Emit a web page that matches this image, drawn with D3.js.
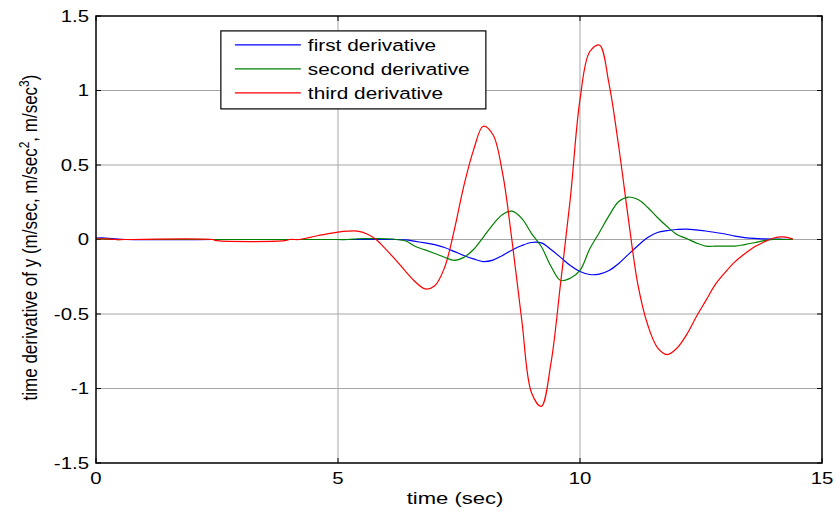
<!DOCTYPE html>
<html>
<head>
<meta charset="utf-8">
<script src="https://cdn.jsdelivr.net/npm/d3@7"></script>
<style>
  body { margin: 0; background: #fff; }
  svg { display: block; font-family: "Liberation Sans", Arial, sans-serif; }
  .grid line { stroke: #a6a6a6; stroke-width: 1; }
  .tick-label { font-size: 17px; fill: #000; }
</style>
</head>
<body>
<svg id="chart"></svg>
<script>
// sample times (sec)
const time = [0, 0.2, 0.4, 0.6, 2.4, 2.5, 3.9, 4.0, 4.2,
  4.4, 4.6, 4.8, 5.0, 5.2, 5.4, 5.6, 5.8, 6.0, 6.2,
  6.4, 6.6, 6.8, 7.0, 7.2, 7.4, 7.6, 7.8, 8.0, 8.2,
  8.4, 8.6, 8.8, 9.0, 9.2, 9.4, 9.6, 9.8, 10.0, 10.2,
  10.4, 10.6, 10.8, 11.0, 11.2, 11.4, 11.6, 11.8, 12.0, 12.2,
  12.4, 12.6, 12.8, 13.0, 13.2, 13.4, 13.6, 13.8, 14.0, 14.2,
  14.4];

const firstDerivative = [0.01, 0.01, 0.005, 0, 0, 0, 0, 0, 0,
  0, 0, 0, 0, 0, 0, 0, 0, 0, 0,
  -0.003, -0.013, -0.023, -0.034, -0.054, -0.08, -0.107, -0.13, -0.148, -0.138,
  -0.107, -0.07, -0.04, -0.02, -0.023, -0.067, -0.12, -0.175, -0.215, -0.235,
  -0.232, -0.208, -0.161, -0.1, -0.04, 0.013, 0.047, 0.06, 0.067, 0.07,
  0.064, 0.057, 0.047, 0.037, 0.023, 0.013, 0.007, 0.004, 0.002, 0.001,
  0];

const secondDerivative = [0.003, 0.003, 0, 0, 0, 0, 0, 0, 0,
  0, 0, 0, 0, 0, 0.005, 0.006, 0.006, 0.005, 0,
  -0.01, -0.047, -0.07, -0.094, -0.119, -0.14, -0.12, -0.067, 0.015, 0.1,
  0.168, 0.19, 0.14, 0.04, -0.047, -0.18, -0.275, -0.26, -0.208, -0.064,
  0.047, 0.16, 0.255, 0.285, 0.268, 0.215, 0.148, 0.087, 0.034, 0.007,
  -0.023, -0.044, -0.045, -0.045, -0.044, -0.034, -0.022, -0.007, 0, 0,
  0];

const thirdDerivative = [0.005, 0.004, 0, 0, 0, -0.008, -0.008, 0, 0,
  0.013, 0.027, 0.04, 0.05, 0.056, 0.056, 0.037, -0.003, -0.07, -0.14,
  -0.215, -0.285, -0.332, -0.31, -0.19, 0.06, 0.36, 0.6, 0.76, 0.705,
  0.445, -0.02, -0.55, -1.03, -1.12, -0.83, -0.29, 0.275, 0.94, 1.26,
  1.305, 1.045, 0.624, 0.137, -0.31, -0.574, -0.725, -0.772, -0.73, -0.64,
  -0.52, -0.41, -0.3, -0.22, -0.15, -0.097, -0.05, -0.017, 0.01, 0.017,
  0.003];

const seriesNames = ["first derivative", "second derivative", "third derivative"];
const seriesColors = ["#0000ff", "#008000", "#ff0000"];
const xTicks = [0, 5, 10, 15];
const yTicks = [-1.5, -1, -0.5, 0, 0.5, 1, 1.5];
const yTickLabels = ["-1.5", "-1", "-0.5", "0", "0.5", "1", "1.5"];

const config = {
  width: 836,
  height: 514,
  margin: { top: 16, right: 14, bottom: 51, left: 96 },
  textScale: 1.2   // figure text looks stretched horizontally
};

const svg = d3.select("#chart")
  .attr("width", config.width)
  .attr("height", config.height);

const width = config.width - config.margin.left - config.margin.right;
const height = config.height - config.margin.top - config.margin.bottom;

const chart = svg.append("g")
  .attr("transform", `translate(${config.margin.left},${config.margin.top})`);

const xScale = d3.scaleLinear().domain([0, 15]).range([0, width]);
const yScale = d3.scaleLinear().domain([-1.5, 1.5]).range([height, 0]);

// grid
const grid = chart.append("g").attr("class", "grid");
grid.selectAll(".gx")
  .data(xTicks.slice(1, -1))
  .join("line")
  .attr("x1", d => xScale(d)).attr("x2", d => xScale(d))
  .attr("y1", 0).attr("y2", height)
  .attr("stroke", "#8c8c8c");
grid.selectAll(".gy")
  .data(yTicks.slice(1, -1))
  .join("line")
  .attr("x1", 0).attr("x2", width)
  .attr("y1", d => yScale(d)).attr("y2", d => yScale(d));

// inward ticks on all four sides
const tickLen = 5;
const ticks = chart.append("g").attr("stroke", "#000").attr("stroke-width", 1);
yTicks.forEach(v => {
  ticks.append("line").attr("x1", 0).attr("x2", tickLen).attr("y1", yScale(v)).attr("y2", yScale(v));
  ticks.append("line").attr("x1", width - tickLen).attr("x2", width).attr("y1", yScale(v)).attr("y2", yScale(v));
});
xTicks.forEach(v => {
  ticks.append("line").attr("x1", xScale(v)).attr("x2", xScale(v)).attr("y1", height).attr("y2", height - tickLen);
  ticks.append("line").attr("x1", xScale(v)).attr("x2", xScale(v)).attr("y1", 0).attr("y2", tickLen);
});

// lines
const line = d3.line()
  .x((d, i) => xScale(time[i]))
  .y(d => yScale(d))
  .curve(d3.curveCatmullRom.alpha(0.5));

const seriesData = [firstDerivative, secondDerivative, thirdDerivative];
chart.selectAll(".series")
  .data(seriesData)
  .join("path")
  .attr("class", "series")
  .attr("fill", "none")
  .attr("stroke", (d, i) => seriesColors[i])
  .attr("stroke-width", 1.2)
  .attr("d", line);

// frame
chart.append("rect")
  .attr("x", 0).attr("y", 0)
  .attr("width", width).attr("height", height)
  .attr("fill", "none")
  .attr("stroke", "#000")
  .attr("stroke-width", 1.5);

// tick labels
const sx = config.textScale;
chart.selectAll(".ylab")
  .data(yTicks)
  .join("g")
  .attr("transform", d => `translate(-7,${yScale(d)}) scale(${sx},1)`)
  .append("text")
  .attr("class", "tick-label")
  .attr("text-anchor", "end")
  .attr("dy", "0.35em")
  .text((d, i) => yTickLabels[i]);

chart.selectAll(".xlab")
  .data(xTicks)
  .join("g")
  .attr("transform", d => `translate(${xScale(d)},${height + 21}) scale(${sx},1)`)
  .append("text")
  .attr("class", "tick-label")
  .attr("text-anchor", "middle")
  .text(d => d);

// axis titles
svg.append("g")
  .attr("transform", `translate(${config.margin.left + width / 2 - 4},${config.height - 10}) scale(${sx * 1.08},1)`)
  .append("text")
  .attr("class", "tick-label")
  .attr("text-anchor", "middle")
  .text("time (sec)");

const yTitle = svg.append("g")
  .attr("transform", `translate(37,${config.margin.top + height / 2 - 2}) scale(${sx},1) rotate(-90)`)
  .append("text")
  .attr("class", "tick-label")
  .attr("text-anchor", "middle");
yTitle.append("tspan").text("time derivative of y (m/sec, m/sec");
yTitle.append("tspan").attr("dy", -7).attr("font-size", 12).text("2");
yTitle.append("tspan").attr("dy", 7).text(", m/sec");
yTitle.append("tspan").attr("dy", -7).attr("font-size", 12).text("3");
yTitle.append("tspan").attr("dy", 7).text(")");

// legend
const legend = chart.append("g")
  .attr("transform", `translate(${xScale(2.58)},${yScale(1.4)})`);
legend.append("rect")
  .attr("width", 265).attr("height", 78)
  .attr("fill", "#fff")
  .attr("stroke", "#000")
  .attr("stroke-width", 1.2);
const items = legend.selectAll(".item")
  .data(seriesNames)
  .join("g")
  .attr("transform", (d, i) => `translate(0,${14 + i * 24})`);
items.append("line")
  .attr("x1", 14).attr("x2", 80)
  .attr("stroke", (d, i) => seriesColors[i])
  .attr("stroke-width", 1.2);
items.append("g")
  .attr("transform", `translate(87,0) scale(${sx * 1.02},1)`)
  .append("text")
  .attr("class", "tick-label")
  .attr("dy", "0.35em")
  .text(d => d);
</script>
</body>
</html>
